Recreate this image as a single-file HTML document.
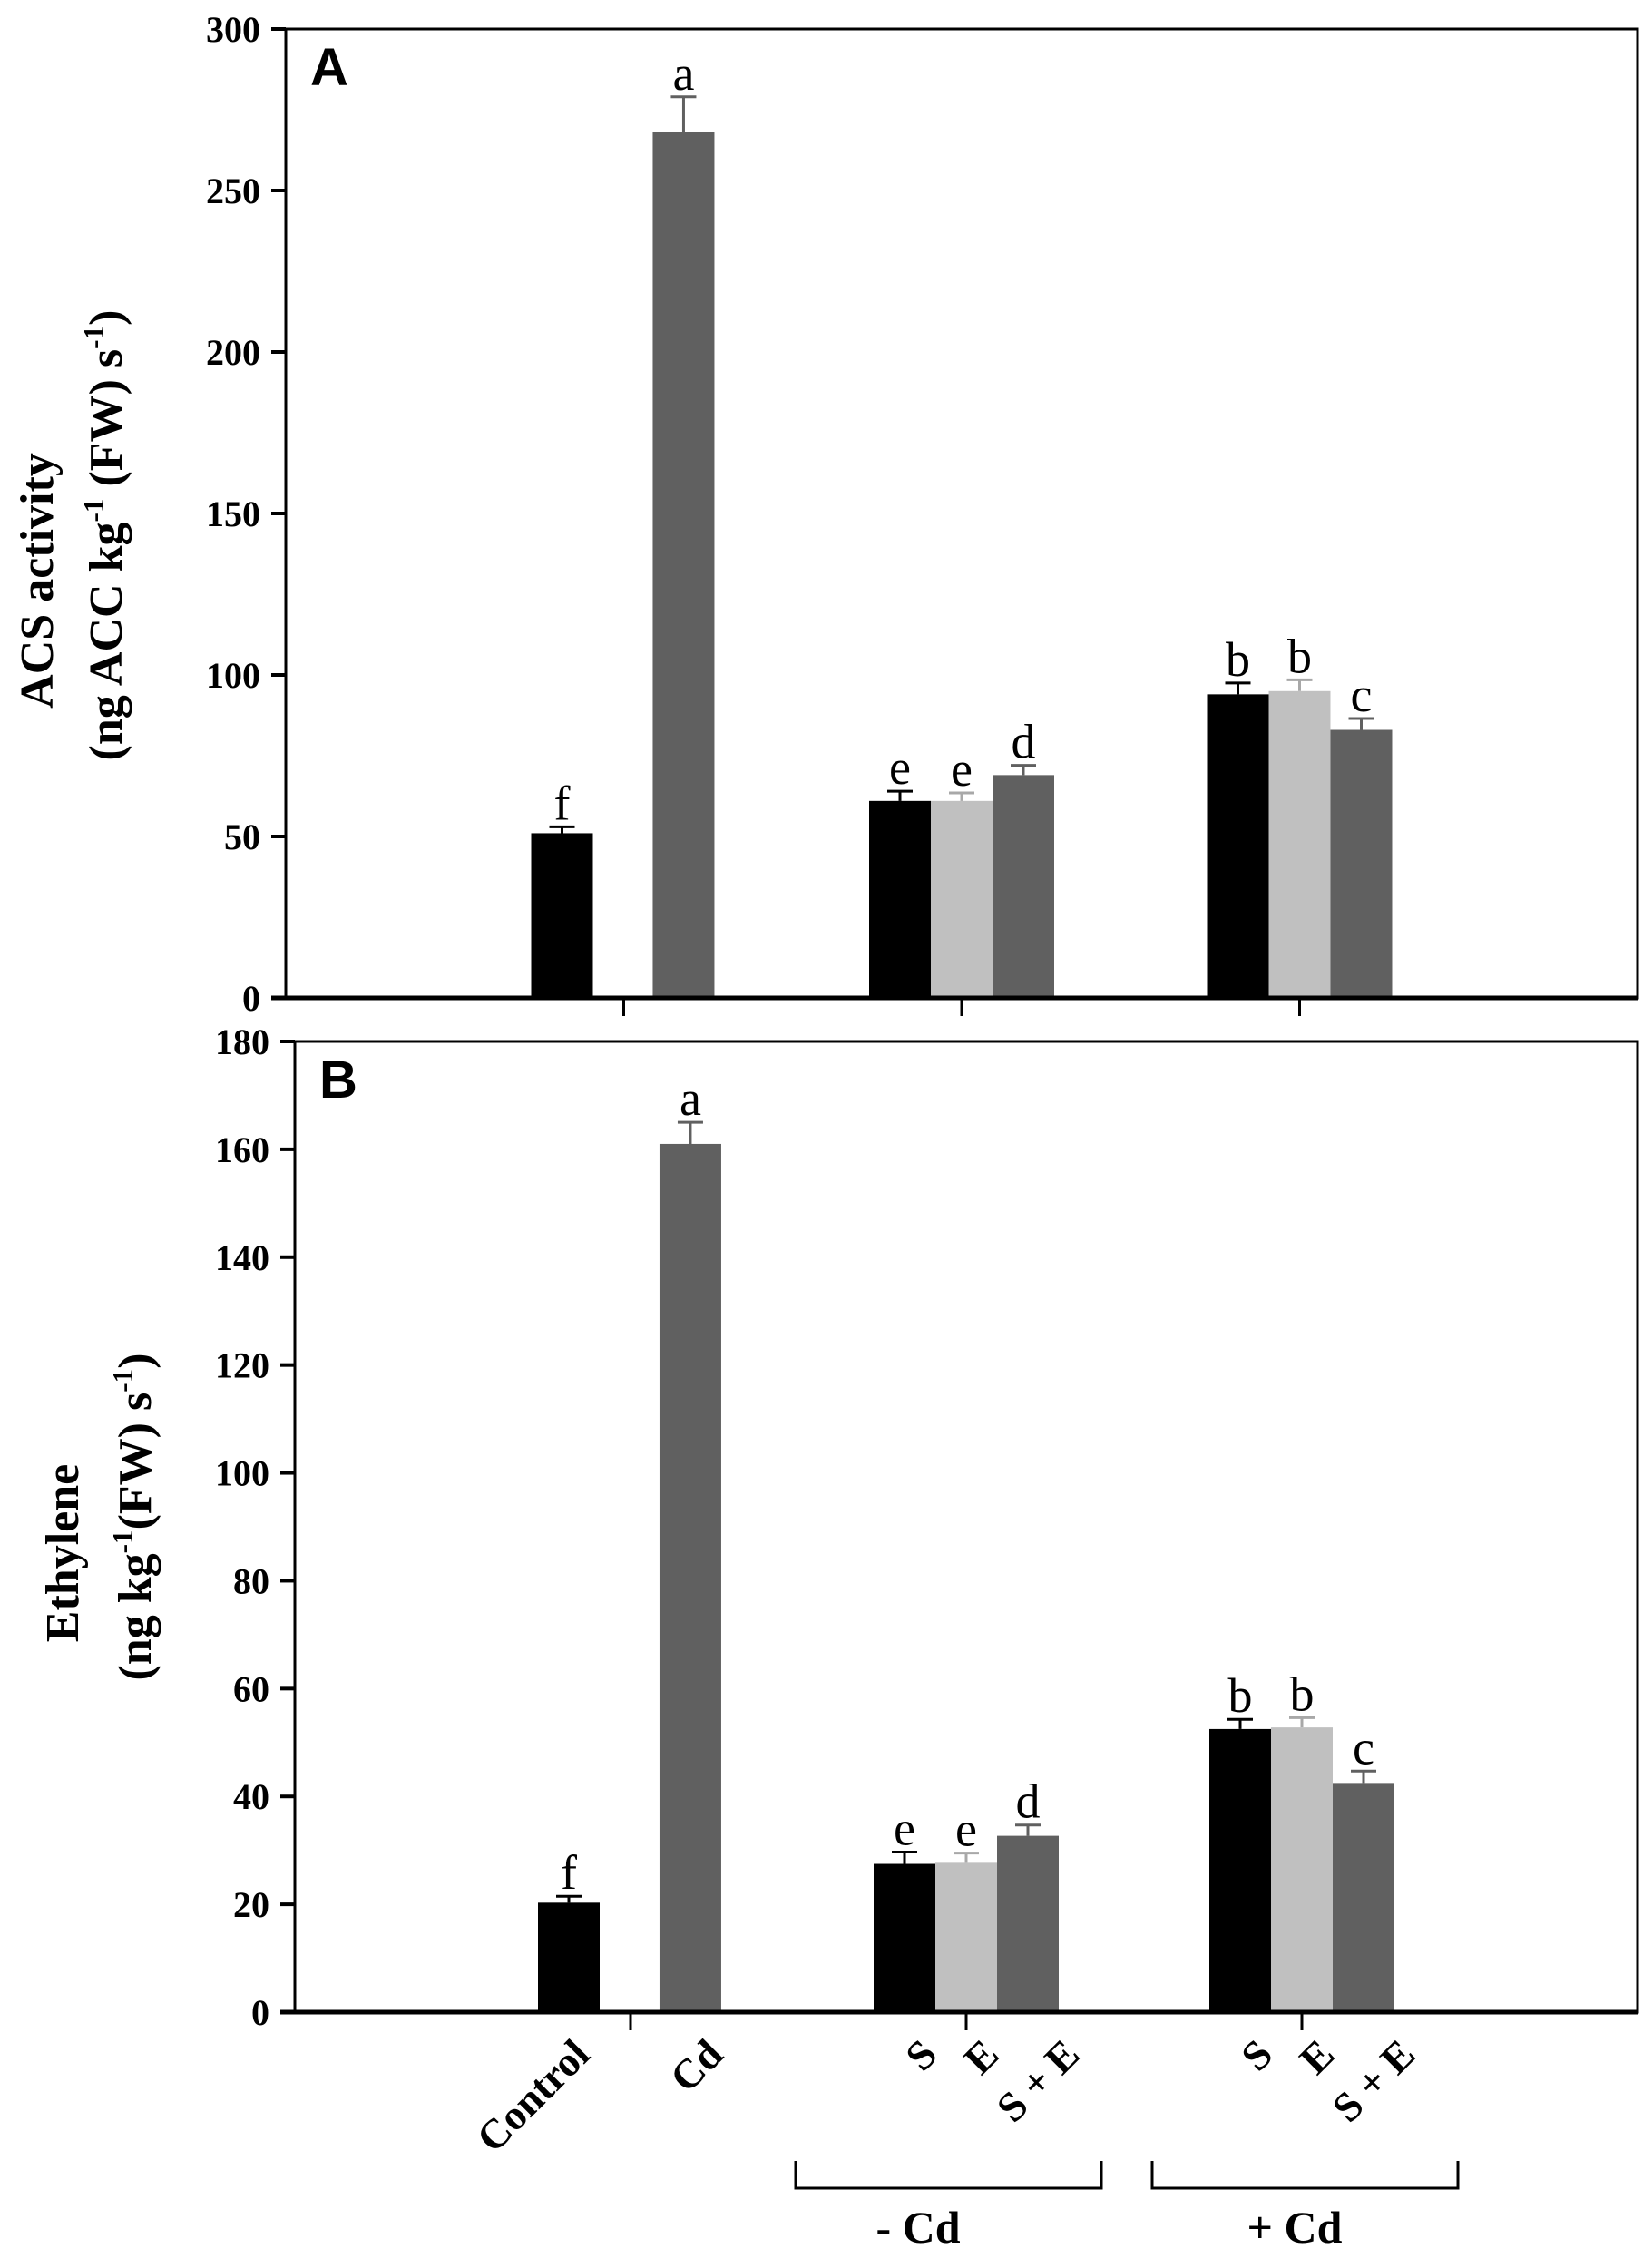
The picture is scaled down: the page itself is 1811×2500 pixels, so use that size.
<!DOCTYPE html>
<html><head><meta charset="utf-8"><title>ACS activity and Ethylene</title>
<style>html,body{margin:0;padding:0;background:#fff}svg{display:block}</style></head>
<body>
<svg id="chart" width="1811" height="2500" viewBox="0 0 1811 2500" xmlns="http://www.w3.org/2000/svg"></svg>
<script>
const categories = ["Control","Cd","S","E","S + E","S","E","S + E"];
const groupOf = [0,0,1,1,1,2,2,2];
const slotOf = [-1,1,-1,0,1,-1,0,1];
const colors = ["#000000","#606060","#000000","#c0c0c0","#606060","#000000","#c0c0c0","#606060"];
const acsValues = [51,268,61,61,69,94,95,83];
const acsErrors = [2,11,3,2.5,3,3.5,3.5,3.5];
const acsLetters = ["f","a","e","e","d","b","b","c"];
const acsTicks = [0,50,100,150,200,250,300];
const ethValues = [20.3,161,27.5,27.7,32.7,52.5,52.8,42.5];
const ethErrors = [1.2,4,2.2,1.8,2,1.8,1.8,2.2];
const ethLetters = ["f","a","e","e","d","b","b","c"];
const ethTicks = [0,20,40,60,80,100,120,140,160,180];

const NS = "http://www.w3.org/2000/svg";
const svg = document.getElementById("chart");
function mk(tag, attrs, parent){const e=document.createElementNS(NS,tag);for(const k in attrs)e.setAttribute(k,attrs[k]);(parent||svg).appendChild(e);return e;}
const SERIF='"Liberation Serif", serif';
const SANS='"Liberation Sans", sans-serif';
const BW = 68;

function panel(cfg){
  const g = mk("g",{});
  
  
  const yS = v => cfg.B - (v/cfg.max)*(cfg.B-cfg.T);
  const tickX = k => cfg.L + (cfg.R-cfg.L)*(k+1)/4;
  const xC = i => groupOf[i]===0 ? tickX(0) + slotOf[i]*(slotOf[i]<0?BW:BW*0.97) : tickX(groupOf[i]) + slotOf[i]*BW;
  cfg.values.forEach((v,i)=>{
    const x = xC(i), y = yS(v);
    const r = mk("rect",{x:x-BW/2,y:y,width:BW,height:cfg.B-y,fill:colors[i]},g);
    
    
    const ye = yS(v+cfg.errors[i]);
    const ec = colors[i]==="#c0c0c0" ? "#a8a8a8" : colors[i];
    const eb = mk("path",{d:`M${x} ${y} V${ye} M${x-14} ${ye} H${x+14}`,stroke:ec,"stroke-width":3,fill:"none"},g);
    
    
    const t = mk("text",{x:x,y:ye-8,"text-anchor":"middle","font-family":SERIF,"font-size":54},g);
    t.textContent = cfg.letters[i];
    
    
  });
  const fr = mk("rect",{x:cfg.L,y:cfg.T,width:cfg.R-cfg.L,height:cfg.B-cfg.T,fill:"none",stroke:"#000","stroke-width":3},g);
  
  
  const ax = mk("line",{x1:cfg.L-16,x2:cfg.R,y1:cfg.B,y2:cfg.B,stroke:"#000","stroke-width":5},g);
  
  
  cfg.ticks.forEach(v=>{
    const y=yS(v);
    mk("line",{x1:cfg.L-16,x2:cfg.L,y1:y,y2:y,stroke:"#000","stroke-width":4},g);
    const t=mk("text",{x:cfg.L-28,y:y+14,"text-anchor":"end","font-family":SERIF,"font-weight":"bold","font-size":40},g);
    t.textContent=v;
    
    
  });
  [0,1,2].forEach(k=>{const x=tickX(k);mk("line",{x1:x,x2:x,y1:cfg.B,y2:cfg.B+20,stroke:"#000","stroke-width":3},g);});
  const pl = mk("text",{x:cfg.L+27,y:cfg.T+62,"font-family":SANS,"font-weight":"bold","font-size":58},g);
  pl.textContent = cfg.letter;
  
  
  const yt = mk("text",{transform:`translate(${cfg.t1x},${cfg.tcy}) rotate(-90)`,"text-anchor":"middle","font-family":SERIF,"font-weight":"bold","font-size":cfg.tfs},g);
  yt.textContent = cfg.title1;
  
  
  const yt2 = mk("text",{transform:`translate(${cfg.t2x},${cfg.tcy2}) rotate(-90)`,"text-anchor":"middle","font-family":SERIF,"font-weight":"bold","font-size":cfg.tfs},g);
  cfg.title2.forEach(p=>{const s=mk("tspan",p.sup?{dy:-20,"font-size":cfg.tfs*0.6}:{dy:p.down?20:0},yt2);s.textContent=p.t;});
  
  
  if(cfg.xlabels){
    categories.forEach((c,i)=>{
      const x = xC(i) + (i===0?2:(slotOf[i]===1 && i>1?36:15));
      const t=mk("text",{transform:`translate(${x},${cfg.B+26}) rotate(-45)`,"text-anchor":"end","dominant-baseline":"hanging","font-family":SERIF,"font-weight":"bold","font-size":46},g);
      t.textContent=c;
      
      
    });
  }
}

panel({name:"panel-a-acs-activity",short:"acs",L:315,R:1805,T:32,B:1100,max:300,values:acsValues,errors:acsErrors,letters:acsLetters,ticks:acsTicks,letter:"A",
  title1:"ACS activity",t1x:58,tcy:640,t2x:134,tcy2:590,tfs:52,
  title2:[{t:"(ng ACC kg"},{t:"-1",sup:true},{t:" (FW) s",down:true},{t:"-1",sup:true},{t:")",down:true}]});
panel({name:"panel-b-ethylene",short:"eth",L:325,R:1805,T:1148,B:2218,max:180,values:ethValues,errors:ethErrors,letters:ethLetters,ticks:ethTicks,letter:"B",
  title1:"Ethylene",t1x:86,tcy:1712,t2x:166,tcy2:1672,tfs:52,xlabels:true,
  title2:[{t:"(ng kg"},{t:"-1",sup:true},{t:"(FW) s",down:true},{t:"-1",sup:true},{t:")",down:true}]});

const brackets=[{x1:877,x2:1214,label:"- Cd",lx:1012},{x1:1270,x2:1607,label:"+ Cd",lx:1427}];
brackets.forEach((b,i)=>{
  const g=mk("g",{});
  
  
  mk("path",{d:`M${b.x1} 2382 V2412 H${b.x2} V2382`,stroke:"#000","stroke-width":3,fill:"none"},g);
  const t=mk("text",{x:b.lx,y:2472,"text-anchor":"middle","font-family":SERIF,"font-weight":"bold","font-size":50},g);
  t.textContent=b.label;
});
</script>
</body></html>
